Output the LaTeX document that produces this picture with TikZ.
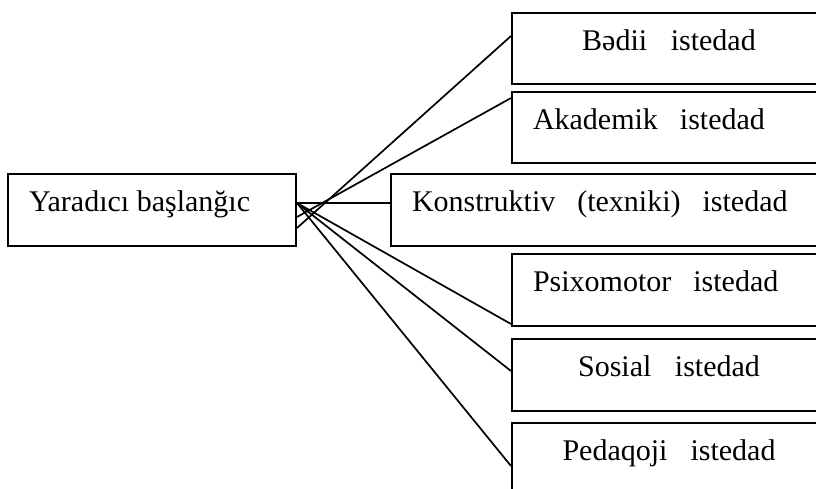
\documentclass[tikz,border=0pt]{standalone}
\usepackage{fontspec}
\usepackage{tikz}
\setmainfont{Liberation Serif}
\usetikzlibrary{positioning}
\tikzstyle{link} = [
    line width=1.7pt,
    draw=black
]
\tikzstyle{frame} = [
    rectangle,
    draw=black,
    line width=2pt,
    anchor=north west,
    minimum height=71.5pt,
    inner xsep=21pt,
    inner ysep=0pt,
    text height=20pt,
    text depth=16pt,
    font=\fontsize{30}{36}\selectfont
]
\tikzstyle{talent} = [
    frame,
    text width=272pt,
    execute at begin node={\spaceskip=22pt plus 2pt\relax}
]

\begin{document}
\begin{tikzpicture}[
        x=1pt, y=-1pt
    ]
        \useasboundingbox (0,0) rectangle (816,489);
        \clip (0,0) rectangle (816,489);
        \node[frame, text width=246pt, align=flush left] (yb) at (7,173) {Yaradıcı başlanğıc};
        \node[talent, align=center] (badii) at (511,12) {Bədii istedad};
        \node[talent, align=flush left] (akademik) at (511,91) {Akademik istedad};
        \node[talent, align=flush left, text width=393pt] (konstruktiv) at (390,173) {Konstruktiv (texniki) istedad};
        \node[talent, align=flush left] (psixomotor) at (511,253) {Psixomotor istedad};
        \node[talent, align=center] (sosial) at (511,338) {Sosial istedad};
        \node[talent, align=center] (pedaqoji) at (511,422) {Pedaqoji istedad};
        % fan of connectors
        \draw[link] ([yshift=-18.25pt]yb.east) -- ([yshift=12.75pt]badii.west);
        \draw[link] ([yshift=-7.25pt]yb.east) -- ([yshift=29.75pt]akademik.west);
        \draw[link] ([yshift=6.75pt]yb.east) -- ([yshift=6.75pt]konstruktiv.west);
        \draw[link] ([yshift=6.75pt]yb.east) -- ([yshift=-34.25pt]psixomotor.west);
        \draw[link] ([yshift=6.75pt]yb.east) -- ([yshift=3.75pt]sosial.west);
        \draw[link] ([yshift=6.75pt]yb.east) -- ([yshift=-7.25pt]pedaqoji.west);
    \end{tikzpicture}
\end{document}
